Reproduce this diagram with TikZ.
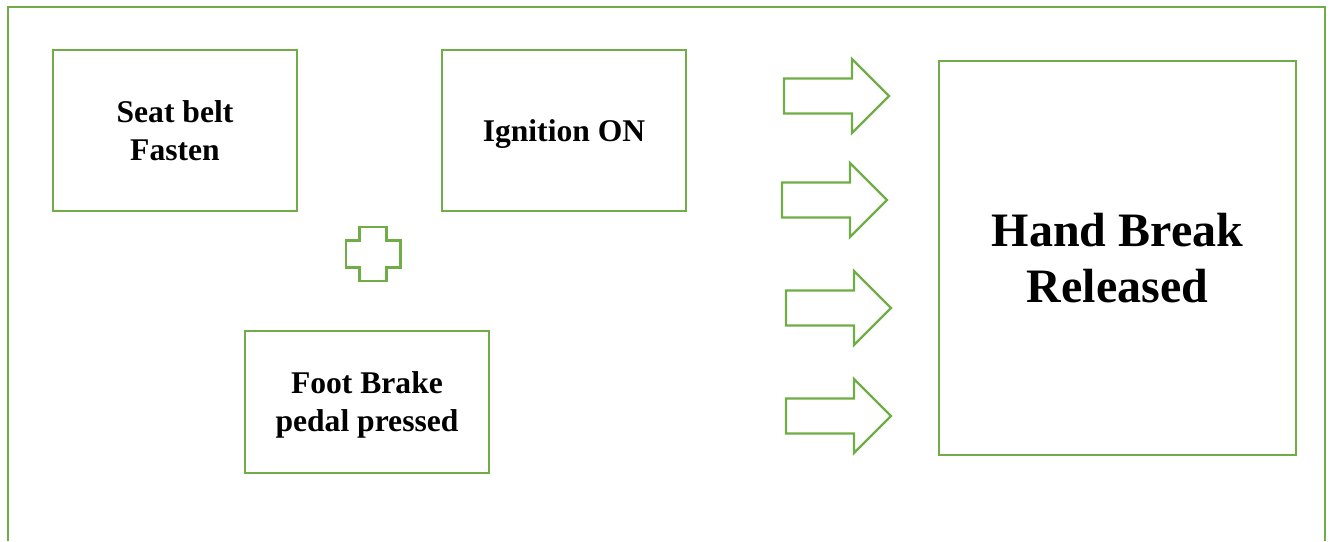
\documentclass[tikz,border=0pt]{standalone}
\usepackage{fontspec}
\setmainfont{Liberation Serif}
\usetikzlibrary{positioning}
\definecolor{lgreen}{RGB}{112,173,71}

\begin{document}
\begin{tikzpicture}[
  x=0.5pt, y=-0.5pt,
  line width=1.2pt,
  box/.style={draw=lgreen, line width=1.2pt, align=center, inner sep=0pt,
              text depth=0pt, font=\fontsize{15.8}{19}\selectfont\bfseries},
  small/.style={box, minimum width=122pt, minimum height=80.5pt},
  big/.style={box, minimum width=178.5pt, minimum height=197pt,
              font=\fontsize{24}{28}\selectfont\bfseries},
  sym/.style={draw=lgreen, line width=1.2pt, line join=miter},
]

\useasboundingbox (0,0) rectangle (1331,541);

% Outer frame (open at the bottom)
\draw[sym] (8,541) -- (8,7) -- (1325,7) -- (1325,541);

% Conditions
\node[small] (belt) at (175,130.5) {Seat belt\\Fasten};
\node[small] (ign) at (564,130.5) {Ignition ON};
\node[small, minimum height=71pt] (foot) at (367,402) {Foot Brake\\pedal pressed};

% Result
\node[big] (hand) at (1117.5,258) {Hand Break\\Released};

% Plus sign
\coordinate (plus) at (373,254);
\draw[sym] (plus) ++(-13.5,-27) -- ++(27,0) -- ++(0,13.5) -- ++(14,0)
  -- ++(0,27) -- ++(-14,0) -- ++(0,13.5) -- ++(-27,0) -- ++(0,-13.5)
  -- ++(-13.5,0) -- ++(0,-27) -- ++(13.5,0) -- cycle;

% Block arrows
\foreach \ax/\ay [count=\i] in {784/96, 782/200, 786/308, 786/416} {
  \coordinate (arr\i) at (\ax,\ay);
  \draw[sym] (arr\i) ++(0,-17.5) -- ++(68,0) -- ++(0,-19.5) -- ++(37,37)
    -- ++(-37,37) -- ++(0,-19.5) -- ++(-68,0) -- cycle;
}

\end{tikzpicture}
\end{document}
